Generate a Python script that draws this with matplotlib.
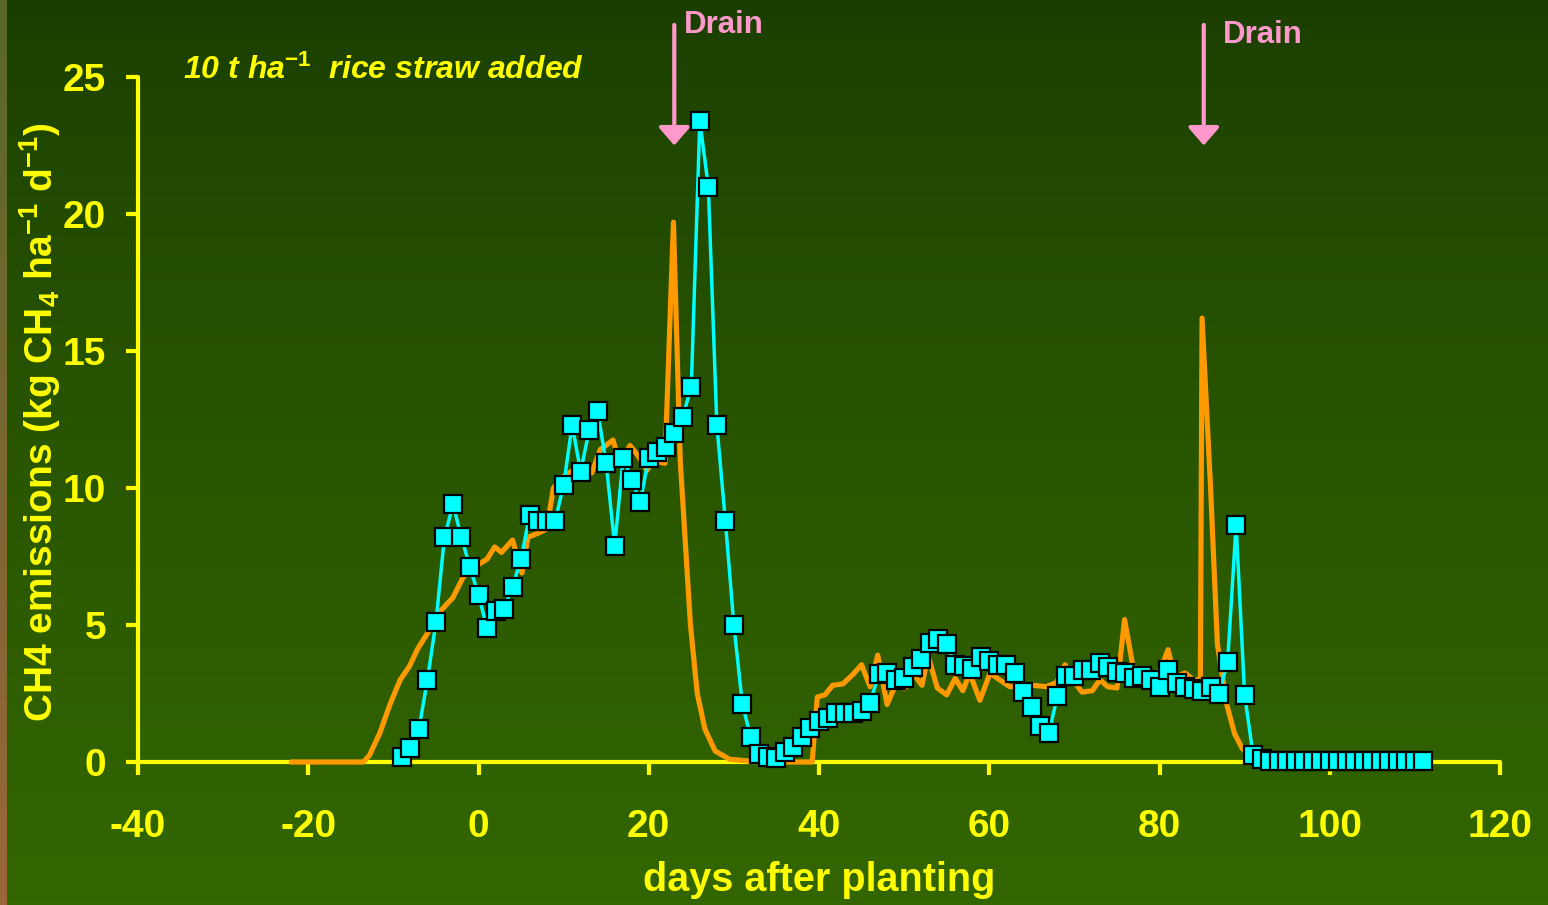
import numpy as np
import matplotlib
matplotlib.use("Agg")
import matplotlib.pyplot as plt

plt.rcParams['font.family'] = ['Liberation Sans', 'DejaVu Sans']
plt.rcParams['font.weight'] = 'bold'
plt.rcParams['axes.unicode_minus'] = False
plt.rcParams['mathtext.fontset'] = 'custom'
plt.rcParams['mathtext.rm'] = 'Liberation Sans:bold'
plt.rcParams['mathtext.it'] = 'Liberation Sans:bold:italic'
plt.rcParams['mathtext.bf'] = 'Liberation Sans:bold'
plt.rcParams['mathtext.default'] = 'rm'

# measured CH4 flux (cyan squares), one value per day
obs_day = list(range(-9, 112))
obs_val = [0.2, 0.5, 1.2, 3.0, 5.1, 8.2, 9.4, 8.2, 7.1,            # -9 .. -1
           6.1, 4.9, 5.5, 5.6, 6.4, 7.4, 9.0, 8.8, 8.8, 8.8,       # 0 .. 9
           10.1, 12.3, 10.6, 12.1, 12.8, 10.9, 7.9, 11.1, 10.3, 9.5,  # 10 .. 19
           11.1, 11.3, 11.5, 12.0, 12.6, 13.7, 23.4, 21.0, 12.3, 8.8,  # 20 .. 29
           5.0, 2.1, 0.9, 0.3, 0.2, 0.15, 0.35, 0.55, 0.9, 1.25,   # 30 .. 39
           1.5, 1.6, 1.8, 1.8, 1.8, 1.85, 2.15, 3.2, 3.25, 3.0,    # 40 .. 49
           3.05, 3.45, 3.75, 4.35, 4.5, 4.3, 3.55, 3.5, 3.4, 3.85,  # 50 .. 59
           3.7, 3.55, 3.55, 3.25, 2.55, 2.0, 1.3, 1.05, 2.4, 3.15,  # 60 .. 69
           3.15, 3.35, 3.35, 3.6, 3.45, 3.3, 3.25, 3.05, 3.15, 3.0,  # 70 .. 79
           2.75, 3.35, 2.9, 2.75, 2.65, 2.6, 2.75, 2.5, 3.65, 8.65,  # 80 .. 89
           2.45, 0.25, 0.1] + [0.05] * 19                          # 90 .. 111

# simulated CH4 flux (orange line)
mod_day = [-22, -13.5, -12.8, -11.6, -10.4, -9.2, -8.1, -7.2, -6.0, -4.5,
           -3.0, -1.8, 0.2, 1.0, 1.9, 2.7, 4.0, 5.1, 5.8, 7.0,
           8.0, 8.8, 9.9, 11.1, 12.3, 13.3, 14.3, 15.8, 16.6, 17.8,
           18.7, 19.8, 20.5, 21.9, 22.9, 23.7, 24.3, 24.9, 25.7, 26.6,
           27.8, 29.5, 33.0, 39.2, 39.8, 40.7, 41.6, 42.8, 44.0, 45.0,
           46.0, 46.9, 48.0, 48.9, 50.1, 51.0, 52.1, 52.8, 53.9, 55.0,
           56.0, 56.9, 57.7, 58.9, 60.1, 61.2, 62.4, 63.5, 65.1, 66.7,
           67.9, 68.9, 69.8, 70.9, 72.1, 73.0, 73.9, 75.0, 75.9, 76.9,
           78.0, 78.9, 80.1, 81.0, 81.8, 83.0, 84.0, 84.8, 85.0, 86.0,
           86.8, 87.9, 88.8, 89.7, 91.0, 92.0]
mod_val = [0, 0, 0.25, 1.05, 2.1, 3.0, 3.5, 4.1, 4.7, 5.5,
           6.0, 6.75, 7.25, 7.4, 7.85, 7.65, 8.1, 6.9, 8.2, 8.35,
           8.5, 10.0, 10.4, 10.65, 10.8, 10.55, 11.4, 11.75, 10.9, 11.55,
           11.2, 10.65, 11.0, 10.9, 19.7, 11.0, 8.0, 5.0, 2.5, 1.2,
           0.4, 0.1, 0, 0, 2.37, 2.45, 2.8, 2.85, 3.2, 3.55,
           2.75, 3.9, 2.1, 2.75, 2.7, 3.25, 2.8, 3.9, 2.7, 2.45,
           3.05, 2.6, 3.25, 2.25, 3.25, 3.0, 2.75, 2.75, 2.8, 2.75,
           2.9, 3.55, 3.0, 2.55, 2.6, 3.0, 2.75, 2.7, 5.2, 3.45,
           2.9, 3.0, 3.35, 4.1, 3.1, 3.25, 3.0, 3.0, 16.2, 10.0,
           4.3, 2.1, 1.05, 0.5, 0.1, 0]

drain_days = [23.0, 85.2]
x_ticks = [-40, -20, 0, 20, 40, 60, 80, 100, 120]
y_ticks = [0, 5, 10, 15, 20, 25]

YEL = '#ffff00'
PINK = '#ff99cc'

W, H = 1548, 905
fig = plt.figure(figsize=(W / 100, H / 100), dpi=100)

# green background gradient
bg = fig.add_axes([0, 0, 1, 1])
t = np.linspace(0, 1, 256)[:, None] ** 0.75
top = np.array([26, 61, 0]) / 255
bot = np.array([51, 102, 0]) / 255
grad = top[None, None, :] * (1 - t[..., None]) + bot[None, None, :] * t[..., None]
bg.imshow(grad, aspect='auto', extent=[0, 1, 0, 1])
bg.axis('off')

# thin olive/brown strip on the left edge
strip = fig.add_axes([0, 0, 7 / W, 1])
st_top = np.array([88, 104, 40]) / 255
st_bot = np.array([155, 102, 58]) / 255
tt = np.linspace(0, 1, 256)[:, None]
sgrad = st_top[None, None, :] * (1 - tt[..., None]) + st_bot[None, None, :] * tt[..., None]
strip.imshow(sgrad, aspect='auto', extent=[0, 1, 0, 1])
strip.axis('off')

ax = fig.add_axes([138 / W, (H - 762) / H, 1362 / W, 685 / H])
ax.patch.set_alpha(0)

ax.plot(mod_day, mod_val, color='#ff9900', lw=3.7, zorder=3, clip_on=False,
        solid_joinstyle='round', solid_capstyle='round')
ax.plot(obs_day, obs_val, color='#00ffff', lw=2.5, marker='s', ms=12.5,
        mfc='#00ffff', mec='black', mew=1.6, zorder=4, clip_on=False)

ax.set_xlim(-40, 120)
ax.set_ylim(0, 25)
ax.set_xticks(x_ticks)
ax.set_yticks(y_ticks)
for s in ['top', 'right']:
    ax.spines[s].set_visible(False)
for s in ['left', 'bottom']:
    ax.spines[s].set_color(YEL)
    ax.spines[s].set_linewidth(3)
    ax.spines[s].set_capstyle('round')
ax.tick_params(axis='both', colors=YEL, width=3, length=9, direction='out',
               labelsize=28)
ax.tick_params(axis='x', pad=25)
ax.tick_params(axis='y', pad=14)

for d, (tx, ty) in zip(drain_days, [(24.1, 26.9), (87.4, 26.55)]):
    ax.annotate('', xy=(d, 22.5), xytext=(d, 26.9),
                arrowprops=dict(arrowstyle='-|>,head_width=0.95,head_length=1.1',
                                color=PINK, lw=3, shrinkA=0, shrinkB=0,
                                mutation_scale=10),
                annotation_clip=False)
    ax.text(tx, ty, 'Drain', color=PINK, fontsize=22.5, ha='left', va='center',
            clip_on=False)

fig.text(819 / W, 1 - 880 / H, 'days after planting', color=YEL, fontsize=28.5,
         ha='center', va='center')
fig.text(40 / W, 1 - 422 / H, 'CH4 emissions (kg CH$_4$ ha$^{-1}$ d$^{-1}$)',
         color=YEL, fontsize=28, rotation=90, ha='center', va='center')
fig.text(183 / W, 1 - 70 / H, r'10 t ha$^{\mathit{-1}}$  rice straw added',
         color=YEL, fontsize=23, style='italic', ha='left', va='center')

fig.savefig('out.png', dpi=100, facecolor=fig.get_facecolor())
